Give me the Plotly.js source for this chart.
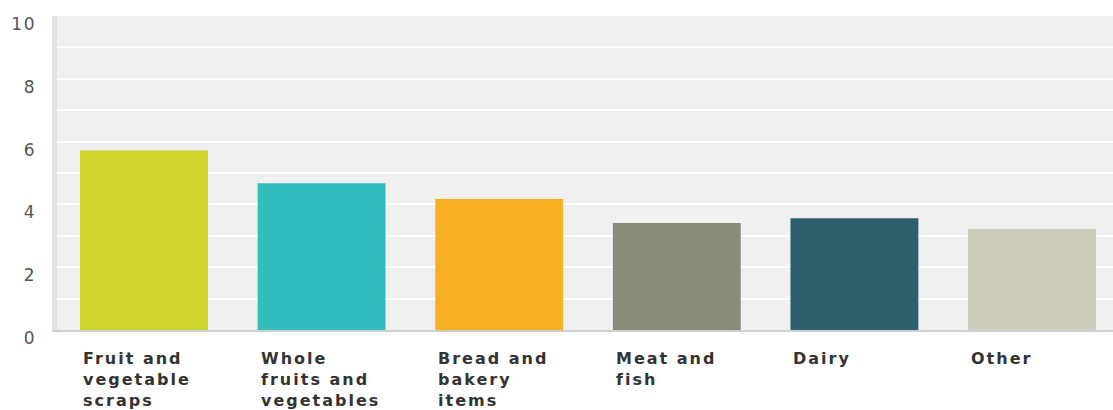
<!DOCTYPE html>
<html>
<head>
<meta charset="utf-8">
<script src="https://cdn.plot.ly/plotly-3.0.1.min.js"></script>
<style>
  html, body { margin: 0; padding: 0; background: #fff; }
  #chart { width: 1113px; height: 410px; }
  .annotation-text { letter-spacing: 2px; }
  .ytick text { letter-spacing: 1.5px; }
</style>
</head>
<body>
<div id="chart"></div>
<script>
const categories = ["Fruit and vegetable scraps", "Whole fruits and vegetables", "Bread and bakery items", "Meat and fish", "Dairy", "Other"];
const labelLines = ["Fruit and<br>vegetable<br>scraps", "Whole<br>fruits and<br>vegetables", "Bread and<br>bakery<br>items", "Meat and<br>fish", "Dairy", "Other"];
const values = [5.72, 4.67, 4.17, 3.41, 3.56, 3.22];
const colors = ["#cfd42a", "#33bdbf", "#f7b020", "#8a8a79", "#2e5f6b", "#cdccbd"];
const yTicks = [0, 2, 4, 6, 8, 10];

const trace = {
  type: "bar",
  x: categories,
  y: values,
  width: 0.72,
  marker: { color: colors, line: { width: 0 } },
  hoverinfo: "x+y"
};

const annotations = labelLines.map((t, i) => ({
  x: i - 0.355,
  xref: "x",
  y: 0,
  yref: "paper",
  xanchor: "left",
  yanchor: "top",
  yshift: -17,
  align: "left",
  showarrow: false,
  text: t,
  font: { family: "DejaVu Sans", size: 16, weight: "bold", color: "#333333" }
}));

const layout = {
  width: 1113,
  height: 410,
  margin: { l: 52, r: 0, t: 16, b: 80 },
  paper_bgcolor: "#ffffff",
  plot_bgcolor: "#f0f0f0",
  showlegend: false,
  bargap: 0.28,
  xaxis: {
    type: "category",
    range: [-0.518, 5.456],
    showticklabels: false,
    showgrid: false,
    zeroline: false,
    showline: true,
    linecolor: "#cfcfcf",
    linewidth: 2,
    ticks: "",
    fixedrange: true
  },
  yaxis: {
    range: [0, 10],
    tickvals: yTicks,
    ticktext: yTicks.map(String),
    showgrid: true,
    gridcolor: "#ffffff",
    gridwidth: 2,
    minor: { dtick: 1, showgrid: true, gridcolor: "#ffffff", gridwidth: 2, ticks: "" },
    zeroline: false,
    showline: false,
    ticks: "",
    ticklabelstandoff: 15,
    ticklabelshift: 8,
    tickfont: { family: "DejaVu Sans", size: 17, color: "#555555" },
    fixedrange: true
  },
  shapes: [{
    type: "rect",
    xref: "paper", yref: "paper",
    x0: 0, x1: 0.0047, y0: 0, y1: 1,
    fillcolor: "#e2e2e2",
    line: { width: 0 },
    layer: "above"
  }],
  annotations: annotations
};

Plotly.newPlot("chart", [trace], layout, { displayModeBar: false, staticPlot: true });
</script>
</body>
</html>
